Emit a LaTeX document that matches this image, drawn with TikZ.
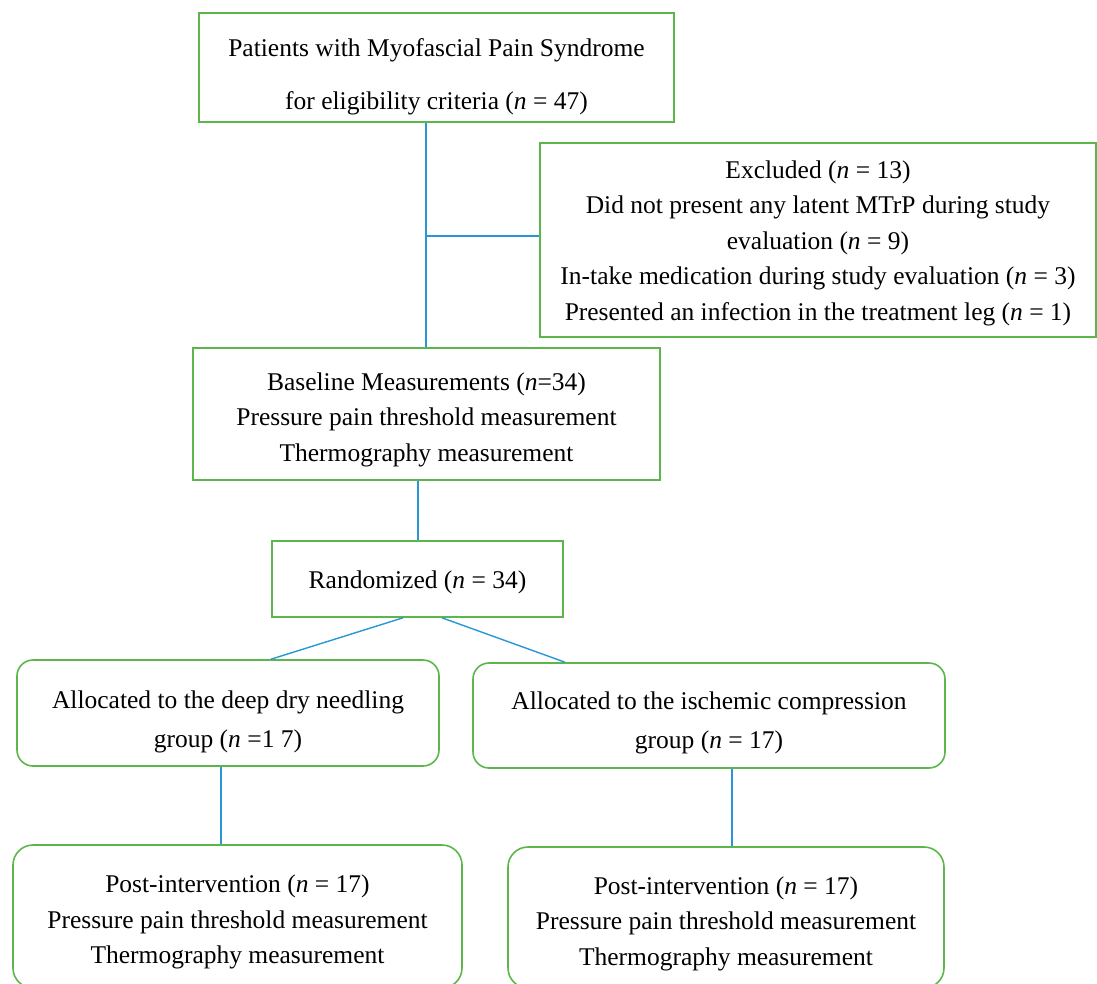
\documentclass[tikz,border=0pt]{standalone}
\usepackage{fontspec}
\setmainfont{Liberation Serif}
\usetikzlibrary{calc}
\definecolor{boxgreen}{RGB}{92,182,76}
\definecolor{lineblue}{RGB}{40,150,215}
\begin{document}
\begin{tikzpicture}[x=1pt,y=-1pt,
  txt/.style={font=\fontsize{25.5}{35.5}\selectfont,align=center,inner sep=0pt},
  sqbox/.style={draw=boxgreen,line width=1.6pt,inner sep=0pt},
  rdbox/.style={sqbox,rounded corners=16pt},
  conn/.style={draw=lineblue,line width=1.4pt}]
\useasboundingbox (0,0) rectangle (1097,983);
\clip (0,0) rectangle (1097,983);
% boxes
\node[sqbox,minimum width=475pt,minimum height=109pt] (top) at (436.5,67.5) {};
\node[sqbox,minimum width=556pt,minimum height=194pt] (excl) at (818,240) {};
\node[sqbox,minimum width=467pt,minimum height=132pt] (base) at (426.5,414) {};
\node[sqbox,minimum width=291pt,minimum height=76pt] (rand) at (417.5,579) {};
\node[rdbox,minimum width=422pt,minimum height=106pt] (allocL) at (228,713) {};
\node[rdbox,minimum width=472pt,minimum height=105pt] (allocR) at (709,715.5) {};
\node[rdbox,rounded corners=20pt,minimum width=449pt,minimum height=143pt] (postL) at (237.5,916.5) {};
\node[rdbox,rounded corners=20pt,minimum width=436pt,minimum height=141pt] (postR) at (726,917.5) {};
% texts
\node[txt] (topt) at (436.5,76.5)
  {Patients with Myofascial Pain Syndrome\\[17.5pt] for eligibility criteria (\textit{n} = 47)};
\node[txt] (exclt) at (818,243)
  {Excluded (\textit{n} = 13)\\ Did not present any latent MTrP during study\\ evaluation (\textit{n} = 9)\\ In-take medication during study evaluation (\textit{n} = 3)\\ Presented an infection in the treatment leg (\textit{n} = 1)};
\node[txt] (baset) at (426.5,419.5)
  {Baseline Measurements (\textit{n}=34)\\ Pressure pain threshold measurement\\ Thermography measurement};
\node[txt] (randt) at (417.5,582)
  {Randomized (\textit{n} = 34)};
\node[txt,font=\fontsize{25.5}{39}\selectfont] (allocLt) at (228,722)
  {Allocated to the deep dry needling\\ group (\textit{n} =1 7)};
\node[txt,font=\fontsize{25.5}{39}\selectfont] (allocRt) at (709,722.5)
  {Allocated to the ischemic compression\\ group (\textit{n} = 17)};
\node[txt] (postLt) at (237.5,922)
  {Post-intervention (\textit{n} = 17)\\ Pressure pain threshold measurement\\ Thermography measurement};
\node[txt] (postRt) at (726,923.5)
  {Post-intervention (\textit{n} = 17)\\ Pressure pain threshold measurement\\ Thermography measurement};
% connectors
\coordinate (j1) at (426,236);
\coordinate (j2) at (418,510);
\coordinate (jL) at (221,800);
\coordinate (jR) at (732,800);
\draw[conn] (top.south -| j1) -- (base.north -| j1);
\draw[conn] (j1) -- (excl.west |- j1);
\draw[conn] (base.south -| j2) -- (rand.north -| j2);
\draw[conn] ($(rand.south)+(-14.5,0)$) -- ($(allocL.north)+(43,0)$);
\draw[conn] ($(rand.south)+(24.5,0)$) -- ($(allocR.north)+(-144,0)$);
\draw[conn] (allocL.south -| jL) -- (postL.north -| jL);
\draw[conn] (allocR.south -| jR) -- (postR.north -| jR);
\end{tikzpicture}
\end{document}
